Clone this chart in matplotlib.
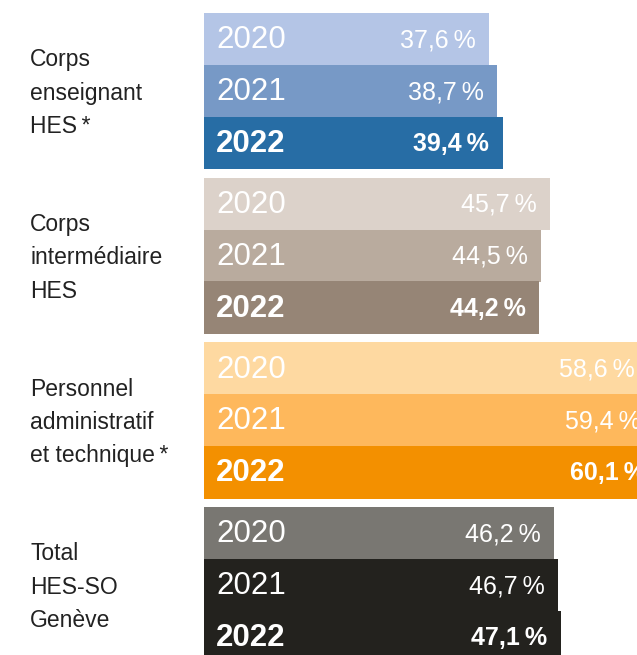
import matplotlib
matplotlib.use("Agg")
import matplotlib.pyplot as plt
from matplotlib.transforms import blended_transform_factory

plt.rcParams["font.family"] = ["Liberation Sans", "DejaVu Sans"]

# ---------------------------------------------------------------------------
# Data
# ---------------------------------------------------------------------------
categories = [
    "Corps\nenseignant\nHES\u2009*",
    "Corps\nintermédiaire\nHES",
    "Personnel\nadministratif\net technique\u2009*",
    "Total\nHES-SO\nGenève",
]
years = ["2020", "2021", "2022"]
values = [
    [37.6, 38.7, 39.4],
    [45.7, 44.5, 44.2],
    [58.6, 59.4, 60.1],
    [46.2, 46.7, 47.1],
]
colors = [
    ["#b4c5e6", "#7799c6", "#276da5"],
    ["#dcd2ca", "#b9ab9e", "#968576"],
    ["#fed9a1", "#feb85c", "#f39000"],
    ["#797772", "#23221e", "#23221e"],
]

# ---------------------------------------------------------------------------
# Layout (pixels)
# ---------------------------------------------------------------------------
W, H = 637, 655
X0 = 204            # x of value 0
PX_PER_PCT = 7.58
TOP0 = 13
GROUP_STEP = 164.7
ROW_STEP = 51.8
ROW_H = 52.5

fig = plt.figure(figsize=(W / 100, H / 100), dpi=100)
ax = fig.add_axes([X0 / W, 0, 1 - X0 / W, 1])
ax.set_xlim(0, (W - X0) / PX_PER_PCT)
ax.set_ylim(H, 0)
ax.axis("off")

pad_year = 12 / PX_PER_PCT
pad_val = 13.5 / PX_PER_PCT
trans_lbl = blended_transform_factory(fig.transFigure, ax.transData)

for g, cat in enumerate(categories):
    gtop = TOP0 + g * GROUP_STEP
    for k, yr in enumerate(years):
        top = gtop + k * ROW_STEP
        v = values[g][k]
        ax.barh(top, v, height=ROW_H, align="edge", color=colors[g][k],
                edgecolor="none", zorder=1 + k)
        yc = top + ROW_H / 2
        weight = "bold" if k == 2 else "normal"
        ax.text(pad_year, yc + 1, yr, color="white", fontsize=22.5,
                fontweight=weight, ha="left", va="center", zorder=10)
        lbl = f"{v:.1f}".replace(".", ",") + "\u2009%"
        ax.text(v - pad_val, yc + 1, lbl, color="white", fontsize=18,
                fontweight=weight, ha="right", va="center", zorder=10,
                clip_on=False)
    gc = gtop + (ROW_STEP * 2 + ROW_H) / 2
    ax.text(30 / W, gc + 2, cat, transform=trans_lbl, color="#222222",
            fontsize=16.5, ha="left", va="center", linespacing=1.58)

fig.savefig("out.png", dpi=100, facecolor="white")
